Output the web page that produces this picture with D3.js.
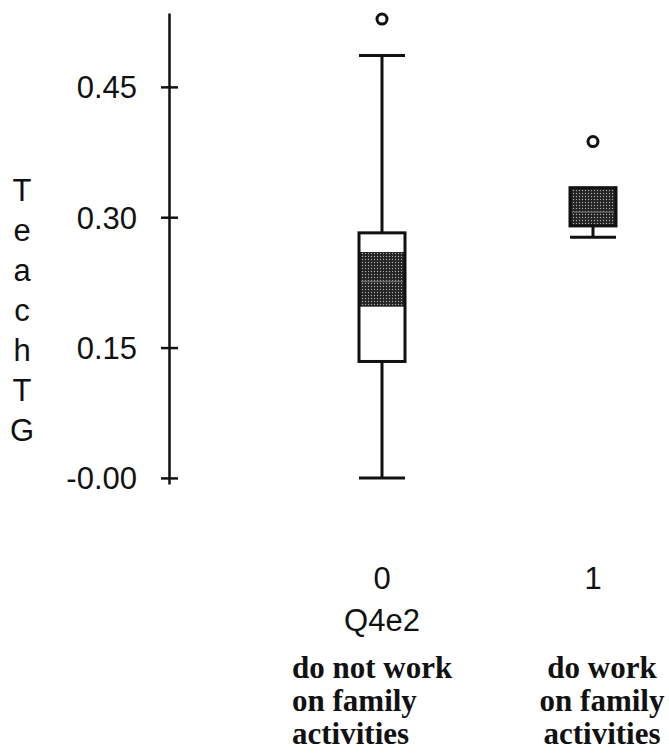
<!DOCTYPE html>
<html>
<head>
<meta charset="utf-8">
<script src="https://cdn.jsdelivr.net/npm/d3@7"></script>
<style>
  body { margin: 0; background: #fff; }
  .sans { font-family: "Liberation Sans", Arial, sans-serif; font-size: 31px; fill: #111; }
  .note { font-family: "Liberation Serif", "Times New Roman", serif; font-weight: bold; font-size: 31px; fill: #111; }
</style>
</head>
<body>
<div id="chart"></div>
<script>
// box plot summary values
var groups = ["0", "1"];
var whiskerLow = [0.0, 0.277];
var q1 = [0.134, 0.290];
var medians = [0.226, 0.306];
var q3 = [0.282, 0.334];
var whiskerHigh = [0.486, 0.334];
var ciLow = [0.197, 0.290];
var ciHigh = [0.260, 0.334];
var outliers = [[0.528], [0.387]];

var yTicks = [0, 0.15, 0.30, 0.45];
var yTickLabels = ["-0.00", "0.15", "0.30", "0.45"];
var yTitle = "TeachTG";
var xTitle = "Q4e2";
var groupNotes = [
  ["do not work", "on family", "activities"],
  ["do work", "on family", "activities"]
];

var svgWidth = 669;
var svgHeight = 753;

var svg = d3.select("#chart")
  .append("svg")
  .attr("width", svgWidth)
  .attr("height", svgHeight);

// stipple fill for the median notch
var defs = svg.append("defs");
var pat = defs.append("pattern")
  .attr("id", "stip")
  .attr("width", 3)
  .attr("height", 3)
  .attr("patternUnits", "userSpaceOnUse");
pat.append("rect").attr("width", 3).attr("height", 3).attr("fill", "#222");
pat.append("circle").attr("cx", 1.5).attr("cy", 1.5).attr("r", 0.7).attr("fill", "#aaa");

var yScale = d3.scaleLinear()
  .domain([-0.007, 0.535])
  .range([484, 13]);

var xScale = d3.scalePoint()
  .domain(groups)
  .range([382, 593]);

var boxW = 46;
var axisX = 169;

// y axis
var leftAxis = d3.axisLeft(yScale)
  .tickValues(yTicks)
  .tickSizeInner(8)
  .tickSizeOuter(0)
  .tickFormat(function(d, i) { return yTickLabels[i]; });

var yAxis = svg.append("g")
  .attr("transform", `translate(${axisX}, 0)`)
  .call(leftAxis);

yAxis.select(".domain").attr("stroke", "#111").attr("stroke-width", 2.5);
yAxis.selectAll(".tick line")
  .attr("x1", -8)
  .attr("x2", 9)
  .attr("stroke", "#111")
  .attr("stroke-width", 2.5);
yAxis.selectAll(".tick text")
  .attr("class", "sans")
  .attr("x", -32)
  .attr("dy", "0.35em")
  .style("font-family", "'Liberation Sans', Arial, sans-serif")
  .style("font-size", "31px")
  .attr("fill", "#111");

// stacked y title
svg.append("g").selectAll("text")
  .data(yTitle.split(""))
  .enter()
  .append("text")
  .attr("class", "sans")
  .attr("x", 22)
  .attr("y", (d, i) => 201 + i * 40)
  .attr("text-anchor", "middle")
  .text(d => d);

// boxes
var data = groups.map(function(g, i) {
  return {
    g: g, lo: whiskerLow[i], q1: q1[i], med: medians[i], q3: q3[i],
    hi: whiskerHigh[i], ciLo: ciLow[i], ciHi: ciHigh[i], out: outliers[i]
  };
});

var boxes = svg.selectAll(".box")
  .data(data)
  .enter()
  .append("g")
  .attr("class", "box")
  .attr("transform", d => `translate(${xScale(d.g)}, 0)`);

// whisker stems
boxes.append("line")
  .attr("x1", 0).attr("x2", 0)
  .attr("y1", d => yScale(d.lo))
  .attr("y2", d => yScale(d.q1))
  .attr("stroke", "#111").attr("stroke-width", 3);
boxes.filter(d => d.hi > d.q3).append("line")
  .attr("x1", 0).attr("x2", 0)
  .attr("y1", d => yScale(d.q3))
  .attr("y2", d => yScale(d.hi))
  .attr("stroke", "#111").attr("stroke-width", 3);

// caps
boxes.append("line")
  .attr("x1", -boxW / 2).attr("x2", boxW / 2)
  .attr("y1", d => yScale(d.lo))
  .attr("y2", d => yScale(d.lo))
  .attr("stroke", "#111").attr("stroke-width", 3);
boxes.filter(d => d.hi > d.q3).append("line")
  .attr("x1", -boxW / 2).attr("x2", boxW / 2)
  .attr("y1", d => yScale(d.hi))
  .attr("y2", d => yScale(d.hi))
  .attr("stroke", "#111").attr("stroke-width", 3);

// box body
boxes.append("rect")
  .attr("x", -boxW / 2)
  .attr("width", boxW)
  .attr("y", d => yScale(d.q3))
  .attr("height", d => yScale(d.q1) - yScale(d.q3))
  .attr("fill", "#fff");

// median confidence band
boxes.append("rect")
  .attr("x", -boxW / 2)
  .attr("width", boxW)
  .attr("y", d => yScale(d.ciHi))
  .attr("height", d => yScale(d.ciLo) - yScale(d.ciHi))
  .attr("fill", "url(#stip)");

// median line
boxes.append("line")
  .attr("x1", -boxW / 2 + 2).attr("x2", boxW / 2 - 2)
  .attr("y1", d => yScale(d.med))
  .attr("y2", d => yScale(d.med))
  .attr("stroke", "#666").attr("stroke-width", 1.5);

// box outline on top
boxes.append("rect")
  .attr("x", -boxW / 2)
  .attr("width", boxW)
  .attr("y", d => yScale(d.q3))
  .attr("height", d => yScale(d.q1) - yScale(d.q3))
  .attr("fill", "none")
  .attr("stroke", "#111")
  .attr("stroke-width", 3);

// outliers
boxes.selectAll(".out")
  .data(d => d.out)
  .enter()
  .append("circle")
  .attr("class", "out")
  .attr("cx", 0)
  .attr("cy", d => yScale(d))
  .attr("r", 5)
  .attr("fill", "#fff")
  .attr("stroke", "#111")
  .attr("stroke-width", 3);

// x category labels
svg.selectAll(".xlab")
  .data(groups)
  .enter()
  .append("text")
  .attr("class", "sans xlab")
  .attr("x", d => xScale(d))
  .attr("y", 589)
  .attr("text-anchor", "middle")
  .text(d => d);

svg.append("text")
  .attr("class", "sans")
  .attr("x", xScale(groups[0]))
  .attr("y", 631)
  .attr("text-anchor", "middle")
  .text(xTitle);

// group descriptions
var noteX = [292, 602];
var noteAnchor = ["start", "middle"];
groupNotes.forEach(function(lines, i) {
  svg.append("g").selectAll("text")
    .data(lines)
    .enter()
    .append("text")
    .attr("class", "note")
    .attr("x", noteX[i])
    .attr("y", (d, j) => 678 + j * 33)
    .attr("text-anchor", noteAnchor[i])
    .text(d => d);
});
</script>
</body>
</html>
